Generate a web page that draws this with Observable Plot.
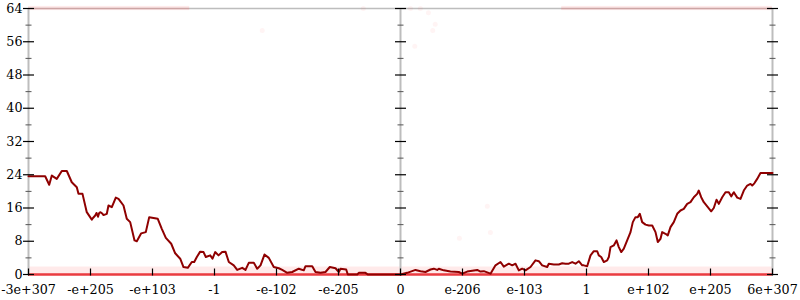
<!DOCTYPE html>
<html>
<head>
<meta charset="utf-8">
<script src="https://cdn.jsdelivr.net/npm/d3@7"></script>
<script src="https://cdn.jsdelivr.net/npm/@observablehq/plot@0.6"></script>
<style>
  html, body { margin: 0; padding: 0; background: #fff; }
</style>
</head>
<body>
<div id="chart"></div>
<script>
// ---- data ----
const xTickLabels = ["-3e+307","-e+205","-e+103","-1","-e-102","-e-205","0","e-206","e-103","1","e+102","e+205","6e+307"];
const xTickValues = [0,1,2,3,4,5,6,7,8,9,10,11,12];
const yMajorTicks = [0,8,16,24,32,40,48,56,64];
const yMinorTicks = [4,12,20,28,36,44,52,60];
const axisPositions = [0,6,12];

const lineX = [0,0.269,0.334,0.376,0.456,0.537,0.618,0.698,0.779,0.806,0.871,0.940,1.021,1.040,1.076,1.097,1.121,1.140,1.161,1.194,1.210,1.263,1.290,1.344,1.408,1.452,1.532,1.585,1.640,1.710,1.747,1.818,1.892,1.947,2.016,2.085,2.150,2.215,2.302,2.366,2.447,2.500,2.569,2.634,2.673,2.715,2.769,2.823,2.860,2.931,2.968,3.011,3.065,3.124,3.177,3.231,3.311,3.366,3.447,3.500,3.553,3.634,3.689,3.742,3.806,3.876,3.956,4.037,4.092,4.173,4.253,4.360,4.440,4.468,4.576,4.629,4.710,4.790,4.860,4.952,5.005,5.032,5.124,5.150,5.302,5.327,5.435,5.473,6.000,6.108,6.242,6.323,6.403,6.484,6.537,6.592,6.618,6.698,6.806,6.940,6.995,7.076,7.237,7.290,7.344,7.452,7.532,7.613,7.666,7.747,7.802,7.855,7.908,7.963,8.016,8.097,8.177,8.231,8.285,8.366,8.392,8.473,8.553,8.608,8.661,8.715,8.769,8.823,8.876,8.931,8.956,9.011,9.065,9.118,9.173,9.198,9.237,9.279,9.334,9.360,9.387,9.440,9.484,9.521,9.560,9.602,9.656,9.710,9.747,9.790,9.827,9.860,9.898,9.952,10.005,10.060,10.113,10.150,10.194,10.221,10.274,10.311,10.355,10.408,10.463,10.516,10.569,10.624,10.677,10.731,10.785,10.811,10.850,10.892,10.947,11.011,11.053,11.097,11.134,11.189,11.242,11.295,11.334,11.376,11.431,11.484,11.537,11.592,11.645,11.673,11.710,11.753,11.806,12];
const lineY = [23.65,23.65,21.6,23.8,23.0,24.9,24.9,22.2,21.0,19.4,19.4,15.0,13.2,13.6,14.2,14.8,13.9,14.8,15.0,14.6,14.3,14.6,16.6,16.2,18.5,18.2,16.6,13.4,12.6,8.2,8.0,9.9,10.2,13.8,13.6,13.4,11.0,8.8,7.4,5.1,3.8,1.8,1.6,3.0,3.0,4.2,5.5,5.4,4.2,4.6,3.8,5.4,4.6,5.4,5.5,3.0,2.2,1.1,1.6,1.1,2.8,2.8,1.4,2.2,4.8,4.0,1.8,1.5,1.1,0.4,0.6,1.4,1.0,2.0,2.0,0.6,0.4,0.6,1.8,1.5,0.6,1.4,1.2,0,0,0.4,0.4,0,0,0.4,1.1,0.8,0.6,1.2,1.4,1.1,1.4,1.0,0.7,0.6,0.2,0.7,1.1,0.7,0.8,0.2,2.2,3.0,1.9,2.6,2.2,2.6,1.0,1.4,1.0,1.8,3.4,3.2,2.2,1.8,2.6,2.4,2.4,2.7,2.6,2.6,3.0,2.6,3.2,2.2,2.2,2.0,4.6,5.6,5.6,4.6,4.2,3.0,3.4,4.2,6.6,7.0,8.2,6.6,5.4,6.2,8.2,10.2,12.6,13.8,13.8,14.6,12.6,12.0,11.8,11.8,10.2,7.8,8.6,10.2,9.8,9.4,11.4,12.6,14.6,15.4,15.8,17.0,17.4,18.6,19.4,20.2,18.6,17.4,16.4,15.2,16.0,18.0,17.0,18.6,19.8,19.8,18.8,19.8,18.5,18.2,20.2,21.4,21.8,21.4,22.0,23.0,24.4,24.4];

// dense point clouds (bands) and scattered points
const cloudX1 = [0, 0, 8.6];
const cloudX2 = [12, 2.6, 12];
const cloudY1 = [0, 63.5, 63.5];
const cloudY2 = [1.8, 64.5, 64.5];
const scatterX = [6.95,7.40,7.45,5.40,6.16,6.32,6.45,6.56,6.52,6.23,3.77];
const scatterY = [8.7,16.4,10.1,64,64,64,63.0,60.2,58.7,54.9,58.7];

// ---- build ----
const line = lineX.map((x, i) => ({x, y: lineY[i]}));
const clouds = cloudX1.map((x1, i) => ({x1, x2: cloudX2[i], y1: cloudY1[i], y2: cloudY2[i]}));
const scatter = scatterX.map((x, i) => ({x, y: scatterY[i]}));
const yMajor = axisPositions.flatMap(a => yMajorTicks.map(y => ({a, y})));
const yMinor = axisPositions.flatMap(a => yMinorTicks.map(y => ({a, y})));
const xTicks = xTickValues.map((v, i) => ({v, label: xTickLabels[i]}));

const hline = {draw(ctx, size) { const w = Math.sqrt(size / Math.PI); ctx.moveTo(-w, 0); ctx.lineTo(w, 0); }};
const vlineUp = {draw(ctx, size) { const w = Math.sqrt(size / Math.PI); ctx.moveTo(0, 1); ctx.lineTo(0, -w); }};

const chart = Plot.plot({
  width: 800,
  height: 300,
  marginLeft: 28,
  marginRight: 28,
  marginTop: 8,
  marginBottom: 26,
  style: {fontFamily: "DejaVu Serif", fontSize: "12.7px", background: "#fff", overflow: "visible"},
  x: {domain: [0, 12], axis: null},
  y: {domain: [0, 64], axis: null},
  marks: [
    Plot.rect(clouds, {x1: "x1", x2: "x2", y1: "y1", y2: "y2", fill: "#ff3030", fillOpacity: 0.1}),
    Plot.ruleY([64], {stroke: "#bdbdbd", strokeWidth: 1.5}),
    Plot.ruleX(axisPositions, {stroke: "#bdbdbd", strokeWidth: 2}),
    Plot.dot(scatter, {x: "x", y: "y", r: 2.5, fill: "#ff4040", fillOpacity: 0.06}),
    Plot.ruleY([0], {stroke: "#e8262b", strokeWidth: 2.5, strokeOpacity: 0.9}),
    Plot.ruleY([64], {x1: 0, x2: 2.6, stroke: "#ff6060", strokeWidth: 1.5, strokeOpacity: 0.25}),
    Plot.ruleY([64], {x1: 8.6, x2: 12, stroke: "#ff6060", strokeWidth: 1.5, strokeOpacity: 0.25}),
    Plot.line(line, {x: "x", y: "y", stroke: "#8f0000", strokeWidth: 2}),
    Plot.dot(yMinor, {x: "a", y: "y", symbol: hline, r: 3, fill: "none", stroke: "#555", strokeWidth: 1}),
    Plot.dot(yMajor, {x: "a", y: "y", symbol: hline, r: 5.5, fill: "none", stroke: "#000", strokeWidth: 1.2}),
    Plot.dot(xTicks, {x: "v", y: 0, symbol: vlineUp, r: 6, fill: "none", stroke: "#000", strokeWidth: 1.2}),
    Plot.text(yMajorTicks, {x: 0, y: d => d, text: d => String(d), textAnchor: "end", dx: -6, fill: "#000"}),
    Plot.text(xTicks, {x: "v", y: 0, text: "label", dy: 15, fill: "#000"})
  ]
});
document.getElementById("chart").appendChild(chart);
</script>
</body>
</html>
